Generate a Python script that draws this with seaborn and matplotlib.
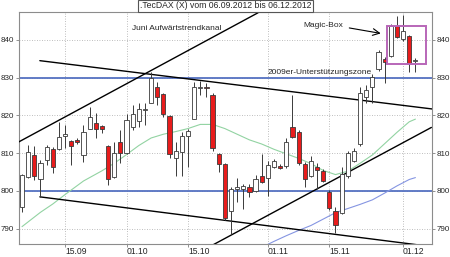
import numpy as np
import pandas as pd
import matplotlib
matplotlib.use("Agg")
import matplotlib.pyplot as plt
import seaborn as sns
from matplotlib.patches import Rectangle

# ---------------- data ----------------
opens  = [795.8, 803.7, 809.5, 803.0, 808.1, 811.2, 811.0, 814.5, 813.2, 813.6,
          809.5, 816.5, 818.1, 817.2, 811.9, 803.7, 813.0, 809.9, 816.8, 818.6,
          821.4, 823.4, 827.6, 825.7, 819.8, 808.8, 810.2, 814.4, 819.1, 827.2,
          827.5, 825.4, 809.8, 807.2, 794.7, 800.4, 800.4, 800.9, 800.0, 803.9,
          803.5, 806.3, 806.6, 806.5, 817.0, 815.5, 807.1, 804.0, 806.2, 805.3,
          799.6, 794.7, 794.2, 803.9, 808.0, 812.5, 825.0, 827.4, 832.2, 834.9,
          835.8, 843.6, 840.3, 841.0, 834.3]
highs  = [804.5, 812.1, 811.9, 808.1, 812.1, 811.7, 818.3, 817.5, 813.5, 813.9,
          817.5, 822.3, 820.5, 817.5, 812.2, 813.0, 816.1, 820.4, 822.7, 823.2,
          823.4, 831.6, 828.8, 826.0, 820.0, 813.0, 815.7, 816.5, 828.8, 829.2,
          828.6, 825.8, 810.1, 807.5, 800.9, 803.5, 801.7, 801.7, 804.3, 809.7,
          807.8, 808.3, 807.0, 813.9, 825.5, 816.0, 807.7, 809.3, 807.5, 805.8,
          800.2, 795.8, 806.4, 810.5, 811.3, 827.6, 828.1, 831.0, 837.2, 835.6,
          844.2, 846.4, 846.5, 841.3, 835.2]
lows   = [794.4, 803.3, 802.8, 798.4, 806.8, 804.6, 810.8, 811.4, 806.8, 812.3,
          807.7, 816.3, 813.9, 815.2, 801.5, 803.3, 807.3, 809.7, 816.1, 816.8,
          817.4, 823.2, 822.7, 819.6, 808.8, 804.0, 804.0, 806.2, 819.0, 825.3,
          824.9, 810.6, 805.1, 792.3, 788.5, 797.0, 795.2, 798.3, 799.6, 802.2,
          798.7, 806.1, 805.8, 806.1, 814.0, 806.8, 801.1, 803.6, 800.5, 802.3,
          795.0, 788.7, 793.8, 803.5, 807.6, 812.0, 823.2, 823.2, 831.8, 828.7,
          835.5, 840.4, 839.8, 831.5, 831.5]
closes = [804.2, 810.4, 803.9, 807.3, 811.7, 806.4, 814.3, 815.0, 811.9, 813.0,
          815.5, 819.6, 816.5, 816.4, 803.0, 810.1, 809.9, 818.8, 820.4, 821.7,
          821.8, 830.0, 824.8, 820.4, 809.7, 810.5, 814.4, 815.8, 827.6, 827.5,
          827.2, 811.4, 807.2, 792.9, 800.4, 801.0, 801.3, 799.8, 803.0, 802.4,
          806.8, 807.8, 806.0, 813.0, 814.3, 807.3, 803.1, 808.0, 805.5, 802.7,
          795.5, 791.0, 804.5, 810.0, 810.6, 826.0, 826.8, 830.2, 836.8, 834.1,
          843.7, 840.7, 842.3, 833.7, 834.5]

ma_green_idx = [0, 3, 5, 7, 10, 13, 15, 17, 19, 21, 23, 25, 27, 29, 31, 33, 35,
                37, 39, 41, 43, 45, 47, 49, 51, 53, 55, 57, 59, 61, 63, 64]
ma_green = [790.5, 794.3, 796.5, 799.0, 802.6, 805.3, 807.3, 809.6, 812.0, 814.0,
            815.0, 815.7, 816.5, 817.6, 817.6, 816.5, 815.0, 813.5, 812.4, 811.0,
            809.8, 808.6, 807.2, 805.4, 804.3, 805.2, 807.3, 809.5, 812.5, 815.5,
            818.3, 819.0]
ma_blue_idx = [39, 41, 43, 45, 47, 49, 51, 53, 55, 57, 59, 61, 63, 64]
ma_blue = [785.0, 786.6, 788.1, 789.5, 790.8, 792.5, 794.2, 795.3, 796.4, 797.6,
           799.4, 801.3, 803.0, 803.5]

support_levels = [830, 800]
# trend lines: (x0, y0, x1, y1) in trading-day index / index points
trend_lines = [(-0.6, 812.9, 38.4, 847.2),
               (2.9, 834.5, 66.7, 821.7),
               (2.9, 798.4, 66.7, 785.2),
               (31.1, 785.7, 66.6, 816.8)]
box_x = [59.45, 65.75]
box_y = [833.5, 843.8]

xtick_pos = [7, 17, 27, 40, 50, 62]
xtick_labels = ["15.09", "01.10", "15.10", "01.11", "15.11", "01.12"]
ytick_vals = [790, 800, 810, 820, 830, 840]

title = ".TecDAX (X) vom 06.09.2012 bis 06.12.2012"

# ---------------- figure ----------------
sns.set_theme(style="white")
plt.rcParams['font.family'] = ['Liberation Sans', 'DejaVu Sans']

fig = plt.figure(figsize=(4.5, 2.57), dpi=100)
ax = fig.add_axes([19/450, 13/257, 413/450, 232/257])

df = pd.DataFrame({"o": opens, "h": highs, "l": lows, "c": closes})
df["i"] = np.arange(len(df))
up = df["c"] >= df["o"]
bottoms = np.minimum(df["o"], df["c"])
heights = np.maximum(np.abs(df["c"] - df["o"]), 0.25)
colors = np.where(up, "white", "#e81c1c")

for lv in support_levels:
    ax.axhline(lv, color="#5572c2", lw=1.3, zorder=2)

sns.lineplot(x=ma_green_idx, y=ma_green, ax=ax, color="#92d3a2", lw=0.8, zorder=2)
sns.lineplot(x=ma_blue_idx, y=ma_blue, ax=ax, color="#8595e2", lw=0.8, zorder=2)

for (x0, y0, x1, y1) in trend_lines:
    ax.plot([x0, x1], [y0, y1], color="black", lw=1.0, zorder=3)

ax.vlines(df["i"], df["l"], df["h"], color="#3a3a3a", lw=0.7, zorder=4)
ax.bar(df["i"], heights, bottom=bottoms, width=0.68, color=colors,
       edgecolor="#3a3a3a", linewidth=0.6, zorder=5)

ax.add_patch(Rectangle((box_x[0], box_y[0]), box_x[1]-box_x[0], box_y[1]-box_y[0],
                       fill=False, edgecolor="#b866b8", lw=1.4, zorder=6))

ax.set_xlim(-0.49, 66.7)
ax.set_ylim(785.9, 847.4)

ax.set_xticks(xtick_pos)
ax.set_xticklabels(xtick_labels)
for lbl in ax.get_xticklabels():
    lbl.set_ha("left")
ax.set_yticks(ytick_vals)
ax.set_yticklabels([str(v) for v in ytick_vals])

ax.tick_params(axis="y", left=True, right=True, labelleft=True, labelright=True,
               length=2.5, width=0.6, color="#808080", labelsize=5.8, pad=1)
ax.tick_params(axis="x", bottom=True, length=2, width=0.6, color="#808080",
               labelsize=6.2, pad=0.5)
ax.grid(True, ls=(0, (1, 2)), color="#a8a8a8", lw=0.6)
for s in ax.spines.values():
    s.set_color("#8c8c8c")
    s.set_linewidth(0.8)
ax.set_xlabel("")
ax.set_ylabel("")

ax.text(17.9, 843.0, "Juni Aufwärtstrendkanal", fontsize=6, ha="left", va="center", zorder=7)
ax.text(45.7, 843.9, "Magic-Box", fontsize=6, ha="left", va="center", zorder=7)
ax.text(39.9, 831.4, "2009er-Unterstützungszone", fontsize=6, ha="left", va="center", zorder=7)
ax.annotate("", xy=(58.8, 841.6), xytext=(52.8, 843.3),
            arrowprops=dict(arrowstyle="->", color="black", lw=0.8), zorder=7)

fig.text(225.5/450, 1 - 6/257, title, fontsize=6.2, ha="center", va="center",
         bbox=dict(boxstyle="square,pad=0.15", facecolor="white", edgecolor="#555555", lw=0.8))

fig.savefig("out.png", dpi=100)
